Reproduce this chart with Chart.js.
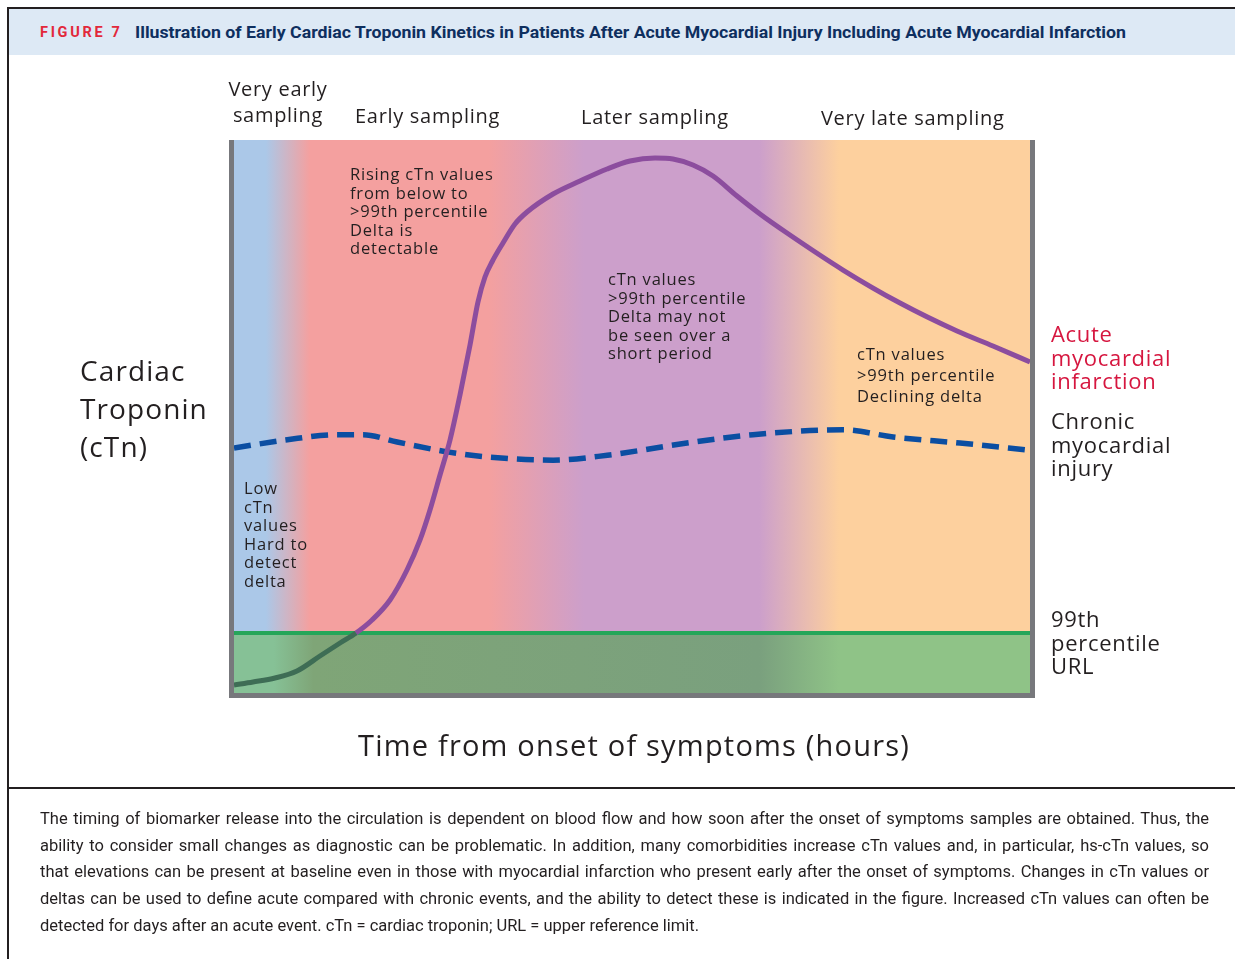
<!DOCTYPE html>
<html>
<head>
<meta charset="utf-8">
<script src="https://cdn.jsdelivr.net/npm/chart.js@4/dist/chart.umd.min.js"></script>
<style>
    html, body { margin: 0; padding: 0; background: #fff; }
    body { width: 1235px; height: 959px; position: relative; overflow: hidden; color: #231f20; font-family: 'Open Sans', sans-serif; }
    .abs { position: absolute; white-space: nowrap; }
    .rule { position: absolute; background: #231f20; }
    .band { position: absolute; left: 9px; top: 9px; width: 1226px; height: 46px; background: #dde9f5; }
    .fig { left: 40px; top: 23px; font: bold 14.5px Roboto, sans-serif; letter-spacing: 2.7px; color: #e2283a; line-height: 20px; }
    .title { left: 135px; top: 23px; font: bold 16.5px Roboto, sans-serif; color: #0e2f5f; line-height: 20px; transform-origin: left center; }
    canvas { position: absolute; left: 0; top: 0; }
    .phase { font-size: 20px; line-height: 26px; letter-spacing: 0.7px; }
    .note { font-size: 16.5px; line-height: 18.5px; letter-spacing: 0.8px; }
    .side { font-size: 22px; line-height: 23.7px; letter-spacing: 0.7px; }
    .cap { left: 40px; font: 16.5px Roboto, sans-serif; line-height: 26.7px; }
</style>
</head>
<body>
<div class="rule" style="left:7px;top:7px;width:1228px;height:2px;"></div>
<div class="rule" style="left:7px;top:7px;width:2px;height:952px;"></div>
<div class="band"></div>
<div class="abs fig">FIGURE 7</div>
<div class="abs title" data-w="991">Illustration of Early Cardiac Troponin Kinetics in Patients After Acute Myocardial Injury Including Acute Myocardial Infarction</div>

<canvas id="troponinChart" width="1235" height="959"></canvas>

<div class="abs phase" style="left:218px;top:76px;width:120px;text-align:center;">Very early<br>sampling</div>
<div class="abs phase" style="left:355px;top:103px;">Early sampling</div>
<div class="abs phase" style="left:581px;top:104px;">Later sampling</div>
<div class="abs phase" style="left:821px;top:105px;">Very late sampling</div>

<div class="abs" style="left:80px;top:351px;font-size:28px;line-height:38px;letter-spacing:1.1px;">Cardiac<br>Troponin<br>(cTn)</div>

<div class="abs note" style="left:350px;top:165px;">Rising cTn values<br>from below to<br>&gt;99th percentile<br>Delta is<br>detectable</div>
<div class="abs note" style="left:244px;top:479px;">Low<br>cTn<br>values<br>Hard to<br>detect<br>delta</div>
<div class="abs note" style="left:608px;top:270px;">cTn values<br>&gt;99th percentile<br>Delta may not<br>be seen over a<br>short period</div>
<div class="abs note" style="left:857px;top:343px;line-height:21px;">cTn values<br>&gt;99th percentile<br>Declining delta</div>

<div class="abs side" style="left:1051px;top:322px;color:#d6163f;">Acute<br>myocardial<br>infarction</div>
<div class="abs side" style="left:1051px;top:409px;">Chronic<br>myocardial<br>injury</div>
<div class="abs side" style="left:1051px;top:607px;">99th<br>percentile<br>URL</div>

<div class="abs" style="left:234px;width:800px;top:727px;text-align:center;font-size:29px;line-height:36px;letter-spacing:1.2px;">Time from onset of symptoms (hours)</div>

<div class="rule" style="left:7px;top:787px;width:1228px;height:2px;"></div>
<div class="abs cap" data-fill="1169" style="top:806px;">The timing of biomarker release into the circulation is dependent on blood flow and how soon after the onset of symptoms samples are obtained. Thus, the</div>
<div class="abs cap" data-fill="1169" style="top:832.7px;">ability to consider small changes as diagnostic can be problematic. In addition, many comorbidities increase cTn values and, in particular, hs-cTn values, so</div>
<div class="abs cap" data-fill="1169" style="top:859.4px;">that elevations can be present at baseline even in those with myocardial infarction who present early after the onset of symptoms. Changes in cTn values or</div>
<div class="abs cap" data-fill="1169" style="top:886.1px;">deltas can be used to define acute compared with chronic events, and the ability to detect these is indicated in the figure. Increased cTn values can often be</div>
<div class="abs cap" style="top:912.8px;">detected for days after an acute event. cTn = cardiac troponin; URL = upper reference limit.</div>

<script>
// time axis is relative (0 = onset, 100 = right edge), cTn is relative too
const urlLevel = 10.85;

const acuteTime = [0, 2.39, 5.15, 7.91, 10.8, 13.32, 15.33, 17.34, 19.6, 21.73, 23.37, 24.62, 25.88, 27.14, 28.39, 29.65, 30.65, 31.53, 32.41, 33.79, 35.3, 36.81, 40.08, 43.47, 46.86, 49.75, 52.89, 55.15, 57.66, 60.18, 63.19, 66.08, 69.47, 76.51, 83.67, 90.83, 95.35, 100];
const acuteCtn = [1.45, 1.99, 2.71, 3.98, 6.69, 9.04, 10.85, 13.2, 16.82, 22.24, 27.67, 33.09, 39.42, 45.75, 53.89, 62.93, 70.71, 75.23, 77.94, 81.37, 84.81, 86.98, 90.24, 92.59, 94.76, 96.2, 96.75, 96.56, 95.48, 93.49, 89.87, 86.62, 83.18, 76.49, 70.52, 65.46, 62.75, 59.86];

const chronicTime = [0, 6.7, 12.9, 16.2, 20.5, 26.8, 31.8, 40.1, 46.9, 56.9, 65.2, 76.5, 82.8, 91.2, 100];
const chronicCtn = [44.3, 45.8, 46.7, 46.7, 45.4, 43.6, 42.7, 42.1, 43.0, 45.2, 46.7, 47.6, 46.3, 45.2, 43.9];

(function () {
    // squeeze the header title to its printed width
    document.querySelectorAll('[data-w]').forEach((el) => {
        const w = el.getBoundingClientRect().width;
        if (w > 0) el.style.transform = 'scaleX(' + (+el.dataset.w / w) + ')';
    });
    // spread caption lines to the full column width
    document.querySelectorAll('[data-fill]').forEach((el) => {
        const w = el.getBoundingClientRect().width;
        const gaps = (el.textContent.match(/ /g) || []).length;
        if (gaps) el.style.wordSpacing = ((+el.dataset.fill - w) / gaps) + 'px';
    });

    const toPoints = (xs, ys) => xs.map((x, i) => ({ x, y: ys[i] }));

    const phaseBackground = {
        id: 'phaseBackground',
        beforeDraw(chart) {
            const { ctx, chartArea: a } = chart;
            const g = ctx.createLinearGradient(a.left, 0, a.right, 0);
            g.addColorStop(0, '#abc8e8');
            g.addColorStop(0.04, '#abc8e8');
            g.addColorStop(0.095, '#f4a09f');
            g.addColorStop(0.32, '#f4a09f');
            g.addColorStop(0.44, '#cc9fcb');
            g.addColorStop(0.66, '#cc9fcb');
            g.addColorStop(0.76, '#fdd09e');
            g.addColorStop(1, '#fdd09e');
            ctx.save();
            ctx.fillStyle = g;
            ctx.fillRect(a.left, a.top, a.right - a.left, a.bottom - a.top);
            ctx.restore();
        },
        afterDatasetsDraw(chart) {
            const { ctx, chartArea: a } = chart;
            ctx.save();
            ctx.strokeStyle = '#77787c';
            ctx.lineWidth = 5;
            ctx.beginPath();
            ctx.moveTo(a.left - 2.5, a.top);
            ctx.lineTo(a.left - 2.5, a.bottom + 2.5);
            ctx.lineTo(a.right + 2.5, a.bottom + 2.5);
            ctx.lineTo(a.right + 2.5, a.top);
            ctx.stroke();
            ctx.restore();
        },
    };

    const urlFill = (context) => {
        const { ctx, chartArea: a } = context.chart;
        if (!a) return 'rgba(0,0,0,0)';
        const g = ctx.createLinearGradient(a.left, 0, a.right, 0);
        g.addColorStop(0, '#86c196');
        g.addColorStop(0.05, '#86c196');
        g.addColorStop(0.1, '#7fa577');
        g.addColorStop(0.66, '#7aa07e');
        g.addColorStop(0.76, '#8fc387');
        g.addColorStop(1, '#8fc387');
        return g;
    };

    const canvas = document.getElementById('troponinChart');
    new Chart(canvas, {
        type: 'line',
        data: {
            datasets: [
                {
                    data: toPoints(acuteTime, acuteCtn),
                    borderWidth: 5,
                    borderColor: '#8c4d9e',
                    segment: {
                        borderColor: (s) => (s.p0.parsed.y <= urlLevel && s.p1.parsed.y <= urlLevel ? '#3e6d55' : '#8c4d9e'),
                    },
                    cubicInterpolationMode: 'monotone',
                    pointRadius: 0,
                    fill: false,
                    order: 1,
                },
                {
                    data: toPoints(chronicTime, chronicCtn),
                    borderWidth: 5.5,
                    borderColor: '#0b4ea2',
                    borderDash: [17, 9],
                    cubicInterpolationMode: 'monotone',
                    pointRadius: 0,
                    fill: false,
                    order: 2,
                },
                {
                    data: toPoints([0, 100], [urlLevel, urlLevel]),
                    borderWidth: 4,
                    borderColor: '#25a659',
                    backgroundColor: urlFill,
                    pointRadius: 0,
                    fill: 'start',
                    order: 3,
                },
            ],
        },
        options: {
            responsive: false,
            animation: false,
            events: [],
            layout: { padding: { left: 234, top: 140, right: 205, bottom: 266 } },
            scales: {
                x: { type: 'linear', min: 0, max: 100, display: false },
                y: { type: 'linear', min: 0, max: 100, display: false },
            },
            plugins: {
                legend: { display: false },
                tooltip: { enabled: false },
            },
        },
        plugins: [phaseBackground],
    });
})();
</script>
</body>
</html>
